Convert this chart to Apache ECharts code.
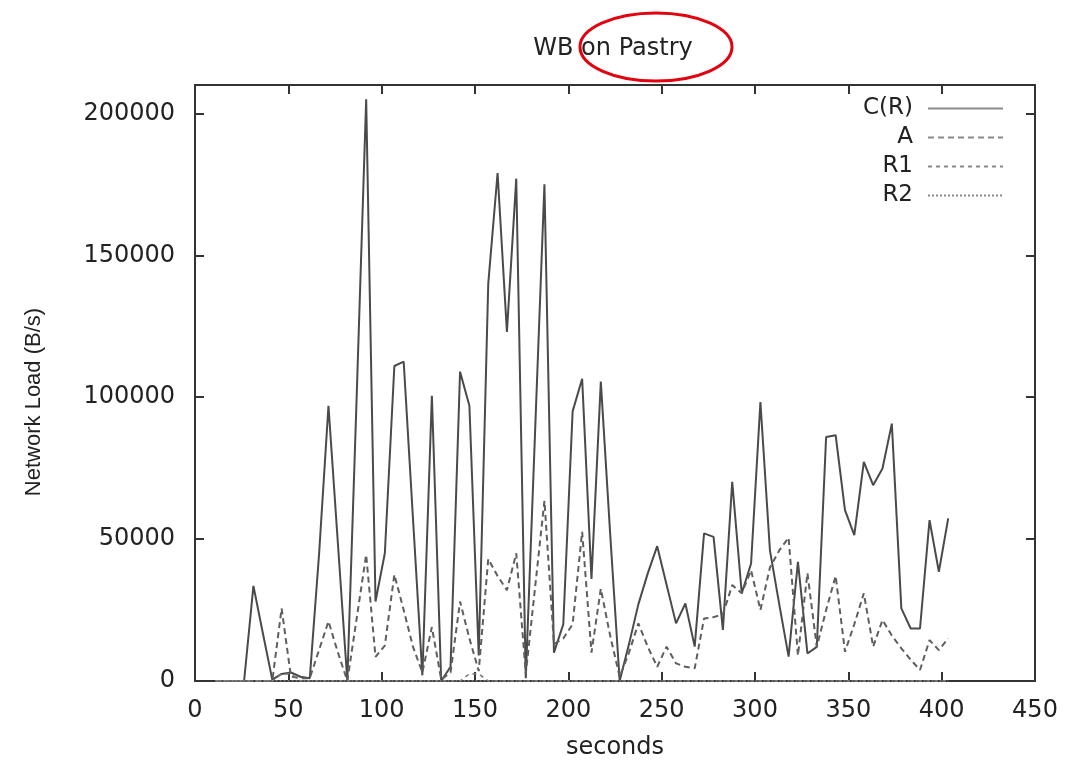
<!DOCTYPE html>
<html>
<head>
<meta charset="utf-8">
<title>WB on Pastry</title>
<script src="https://cdn.jsdelivr.net/npm/echarts@6/dist/echarts.min.js"></script>
<style>
  html, body { margin: 0; padding: 0; background: #fff; }
  #chart { width: 1076px; height: 760px; }
</style>
</head>
<body>
<div id="chart"></div>
<script>
// sample times (seconds)
var seconds = [
  11, 16.2, 21.2, 26.3, 31.3, 36.3, 41.4, 46.4, 51.4, 56.5,
  61.5, 66.5, 71.5, 76.6, 81.6, 86.6, 91.7, 96.7, 101.7, 106.8,
  111.8, 116.8, 121.8, 126.9, 131.9, 136.9, 142, 147, 152, 157.1,
  162.1, 167.1, 172.1, 177.2, 182.2, 187.2, 192.3, 197.3, 202.3, 207.4,
  212.4, 217.4, 222.4, 227.5, 232.5, 237.5, 242.6, 247.6, 252.6, 257.7,
  262.7, 267.7, 272.7, 277.8, 282.8, 287.8, 292.9, 297.9, 302.9, 308,
  313, 318, 323, 328.1, 333.1, 338.1, 343.2, 348.2, 353.2, 358.3,
  363.3, 368.3, 373.3, 378.4, 383.4, 388.4, 393.5, 398.5, 403.5
];

// network load in B/s
var loadCR = [
  0, 0, 0, 0, 33500, 17000, 500, 2500, 3000, 1500,
  1000, 45000, 97000, 48000, 0, 100000, 205000, 28000, 45000, 111000,
  112500, 57000, 2000, 100500, 0, 5000, 109000, 97000, 9000, 140000,
  179000, 123000, 177000, 1000, 88000, 175000, 10000, 20000, 95000, 106500,
  36000, 105500, 52000, 0, 13000, 27000, 38000, 47500, 34000, 20300,
  27300, 12100, 52000, 50800, 18000, 70200, 30900, 41400, 98300, 46000,
  27000, 8600, 42000, 9700, 12000, 86000, 86600, 60200, 51400, 77200,
  69000, 74900, 90700, 25600, 18500, 18500, 56700, 38500, 57300
];

var loadA = [
  0, 0, 0, 0, 0, 0, 0, 25600, 1500, 1000,
  1000, 11000, 21000, 10000, 0, 22000, 44500, 8500, 12500, 37500,
  25000, 12000, 3000, 19000, 500, 3000, 28000, 15000, 3500, 43000,
  37000, 32000, 45000, 2500, 33000, 63500, 13000, 15000, 20000, 52600,
  10000, 32500, 16000, 1500, 10000, 20300, 12000, 5000, 12100, 6200,
  5000, 4500, 22000, 22500, 23500, 33800, 30900, 39000, 25000, 40000,
  46000, 50500, 9000, 38000, 12000, 25000, 37000, 10300, 20000, 30900,
  12100, 21500, 16000, 11500, 7500, 3900, 14400, 10900, 15000
];

var loadR1 = [
  0, 0, 0, 0, 0, 0, 0, 2500, 2500, 0,
  0, 0, 0, 0, 0, 0, 0, 0, 0, 0,
  0, 0, 0, 0, 0, 0, 0, 2500, 2500, 0,
  0, 0, 0, 0, 0, 0, 0, 0, 0, 0,
  0, 0, 0, 0, 0, 0, 0, 0, 0, 0,
  0, 0, 0, 0, 0, 0, 0, 0, 0, 0,
  0, 0, 0, 0, 0, 0, 0, 0, 0, 0,
  0, 0, 0, 0, 0, 0, 0, 0, 0
];

var loadR2 = [
  0, 0, 0, 0, 0, 0, 0, 0, 0, 0,
  0, 0, 0, 0, 0, 0, 0, 0, 0, 0,
  0, 0, 0, 0, 0, 0, 0, 0, 0, 0,
  0, 0, 0, 0, 0, 0, 0, 0, 0, 0,
  0, 0, 0, 0, 0, 0, 0, 0, 0, 0,
  0, 0, 0, 0, 0, 0, 0, 0, 0, 0,
  0, 0, 0, 0, 0, 0, 0, 0, 0, 0,
  0, 0, 0, 0, 0, 0, 0, 0, 0
];

var seriesNames = ['C(R)', 'A', 'R1', 'R2'];

function pairs(values) {
  return seconds.map(function (t, i) { return [t, values[i]]; });
}

// the source picture is stretched sideways, so the wider DejaVu face fits the horizontal text
var wideFont = 'DejaVu Sans, sans-serif';
var font = 'Liberation Sans, Arial, sans-serif';
var frame = '#333';
var textColor = '#222';

var chart = echarts.init(document.getElementById('chart'));

chart.setOption({
  animation: false,
  backgroundColor: '#fff',
  title: {
    text: 'WB on Pastry',
    left: 608,
    textAlign: 'center',
    top: 32,
    textStyle: { fontFamily: wideFont, fontSize: 24, fontWeight: 'normal', color: textColor }
  },
  grid: { left: 195, right: 41, top: 85, bottom: 79, outerBoundsMode: 'none' },
  legend: {
    data: seriesNames,
    orient: 'vertical',
    align: 'right',
    right: 67,
    top: 92,
    itemWidth: 75,
    itemHeight: 14,
    itemGap: 6,
    itemStyle: { opacity: 0 },
    lineStyle: { color: '#8a8a8a' },
    textStyle: { fontFamily: wideFont, fontSize: 23, color: textColor, padding: [0, 10, 0, 0] }
  },
  xAxis: [{
    type: 'value',
    min: 0,
    max: 450,
    interval: 50,
    name: 'seconds',
    nameLocation: 'middle',
    nameGap: 55,
    nameTextStyle: { fontFamily: wideFont, fontSize: 24, color: textColor },
    axisLine: { onZero: false, lineStyle: { color: frame, width: 2 } },
    axisTick: { inside: true, length: 9, lineStyle: { color: frame, width: 2 } },
    axisLabel: { margin: 18, fontFamily: wideFont, fontSize: 24, color: textColor },
    splitLine: { show: false }
  }, {
    type: 'value',
    position: 'top',
    min: 0,
    max: 450,
    interval: 50,
    axisLine: { onZero: false, lineStyle: { color: frame, width: 2 } },
    axisTick: { inside: true, length: 9, lineStyle: { color: frame, width: 2 } },
    axisLabel: { show: false },
    splitLine: { show: false }
  }],
  yAxis: [{
    type: 'value',
    min: 0,
    max: 210000,
    interval: 50000,
    name: 'Network Load (B/s)',
    nameLocation: 'middle',
    nameGap: 150,
    nameTextStyle: { fontFamily: font, fontSize: 22, color: textColor, padding: [0, 38, 0, 0] },
    axisLine: { show: true, onZero: false, lineStyle: { color: frame, width: 2 } },
    axisTick: { show: true, inside: true, length: 9, lineStyle: { color: frame, width: 2 } },
    axisLabel: {
      margin: 20, fontFamily: wideFont, fontSize: 24, color: textColor,
      formatter: function (v) { return v % 50000 === 0 ? String(v) : ''; }
    },
    splitLine: { show: false }
  }, {
    type: 'value',
    position: 'right',
    min: 0,
    max: 210000,
    interval: 50000,
    axisLine: { show: true, onZero: false, lineStyle: { color: frame, width: 2 } },
    axisTick: { show: true, inside: true, length: 9, lineStyle: { color: frame, width: 2 } },
    axisLabel: { show: false },
    splitLine: { show: false }
  }],
  series: [{
    name: 'C(R)',
    type: 'line',
    symbol: 'none',
    data: pairs(loadCR),
    lineStyle: { color: '#4a4a4a', width: 2 }
  }, {
    name: 'A',
    type: 'line',
    symbol: 'none',
    data: pairs(loadA),
    lineStyle: { color: '#5e5e5e', width: 2, type: [6, 4] }
  }, {
    name: 'R1',
    type: 'line',
    symbol: 'none',
    data: pairs(loadR1),
    lineStyle: { color: '#777', width: 1.5, type: [4, 4] }
  }, {
    name: 'R2',
    type: 'line',
    symbol: 'none',
    data: pairs(loadR2),
    lineStyle: { color: '#888', width: 1.5, type: [2, 2] }
  }],
  graphic: [{
    type: 'ellipse',
    shape: { cx: 656, cy: 47, rx: 76, ry: 34 },
    style: { fill: 'none', stroke: '#e3000f', lineWidth: 3 },
    z: 100
  }]
});
</script>
</body>
</html>
